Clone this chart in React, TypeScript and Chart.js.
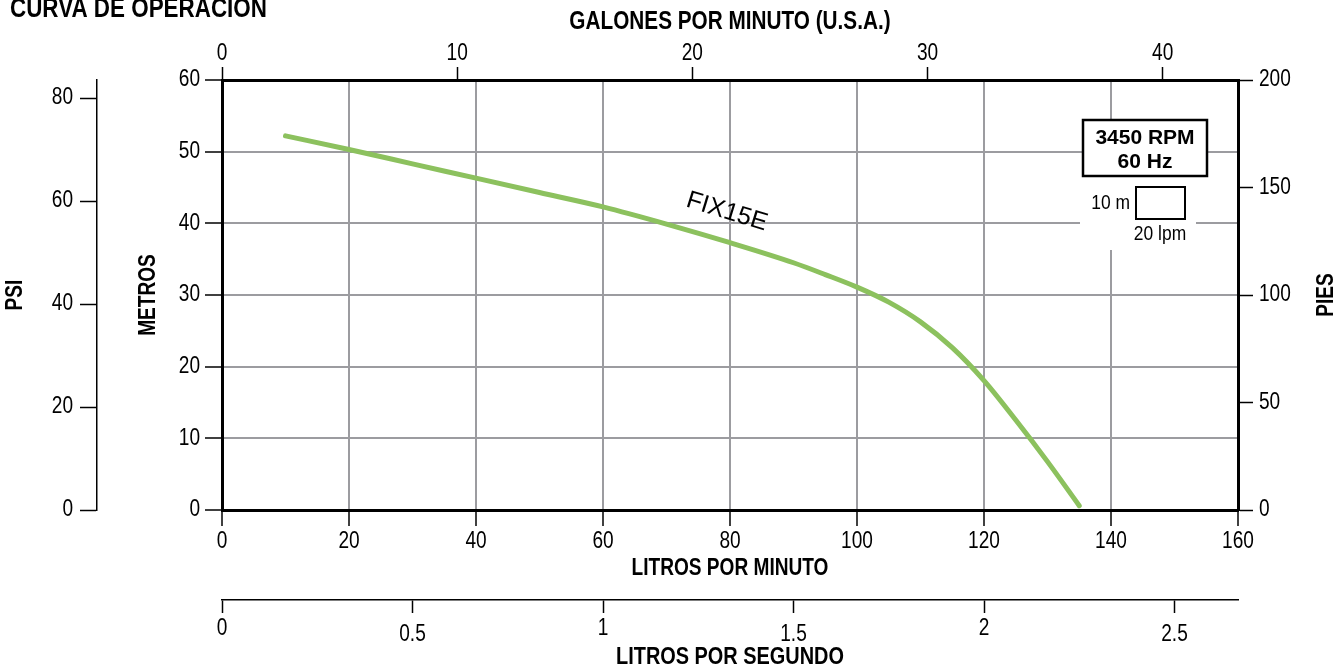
import React, { useEffect, useRef } from "react";
import { Chart, registerables } from "chart.js";

Chart.register(...registerables);

// ---- data ----
const FLOW_LPM = [10, 20, 30, 40, 50, 60, 70, 80, 90, 95, 100, 105, 110, 115, 120, 125, 130, 135];
const HEAD_M = [52.2, 50.3, 48.3, 46.3, 44.3, 42.3, 39.9, 37.3, 34.5, 32.85, 31.1, 29.0, 26.25, 22.65, 18.05, 12.55, 6.75, 0.6];
const SERIES_NAME = "FIX15E";

const LPM_TICKS = [0, 20, 40, 60, 80, 100, 120, 140, 160];
const METER_TICKS = [0, 10, 20, 30, 40, 50, 60];
const PSI_TICKS = [0, 20, 40, 60, 80];
const FEET_TICKS = [0, 50, 100, 150, 200];
const GPM_TICKS = [0, 10, 20, 30, 40];
const LPS_TICKS = [0, 0.5, 1, 1.5, 2, 2.5];

const TITLE = "CURVA DE OPERACION";
const RPM_TEXT = ["3450 RPM", "60 Hz"];
const SCALE_TEXT = ["10 m", "20 lpm"];

// ---- styles ----
const NARROW = '"Liberation Sans Narrow", "Liberation Sans", Arial, sans-serif';
const REGULAR = '"Liberation Sans", Arial, sans-serif';
const NARROW_FACTOR = 0.83;
const GRID = "#9c9ca0";
const CURVE = "#8cc15e";
const tickFont = { family: NARROW, size: 23, lineHeight: 1.2 };
const titleFont = { family: NARROW, size: 23, weight: "bold" as const, lineHeight: 1.2 };

const setTicks = (vals: number[]) => (s: any) => {
  s.ticks = vals.map((v) => ({ value: v }));
};

const annotations = {
  id: "annotations",
  beforeDatasetsDraw(chart: any) {
    const { ctx, chartArea: ca } = chart;
    ctx.save();
    ctx.fillStyle = "#fff";
    ctx.fillRect(ca.right - 158, ca.top + 96, 116, 74);
    ctx.restore();
  },
  afterDraw(chart: any) {
    const { ctx, chartArea: ca, scales } = chart;
    ctx.save();
    ctx.fillStyle = "#000";
    ctx.strokeStyle = "#000";

    // main title
    ctx.font = `bold 27px ${NARROW}`;
    ctx.textAlign = "left";
    ctx.textBaseline = "alphabetic";
    ctx.fillText(TITLE, 10, 17);

    // RPM box
    ctx.fillStyle = "#fff";
    ctx.fillRect(ca.right - 155, ca.top + 40, 124, 56);
    ctx.lineWidth = 2.5;
    ctx.strokeRect(ca.right - 155, ca.top + 40, 124, 56);
    ctx.fillStyle = "#000";
    ctx.font = `bold 21px ${REGULAR}`;
    ctx.textAlign = "center";
    ctx.textBaseline = "middle";
    ctx.fillText(RPM_TEXT[0], ca.right - 93, ca.top + 58);
    ctx.fillText(RPM_TEXT[1], ca.right - 93, ca.top + 82);

    // scale legend
    ctx.lineWidth = 2;
    ctx.strokeRect(ca.right - 102, ca.top + 107, 49, 32);
    ctx.font = `21px ${NARROW}`;
    ctx.textAlign = "right";
    ctx.fillText(SCALE_TEXT[0], ca.right - 108, ca.top + 123);
    ctx.textAlign = "center";
    ctx.fillText(SCALE_TEXT[1], ca.right - 78, ca.top + 154);

    // series label
    const lx = scales.x.getPixelForValue(79.5);
    const ly = scales.y.getPixelForValue(41.6);
    ctx.translate(lx, ly);
    ctx.rotate(0.297);
    ctx.font = `25px ${REGULAR}`;
    ctx.textAlign = "center";
    ctx.textBaseline = "middle";
    ctx.fillText(SERIES_NAME, 0, 0);
    ctx.setTransform(1, 0, 0, 1, 0, 0);

    // right axis title (reads bottom to top)
    const yf = scales.yFeet;
    ctx.translate(yf.right - 17, (yf.top + yf.bottom) / 2);
    ctx.rotate(-Math.PI / 2);
    ctx.font = `bold 23px ${NARROW}`;
    ctx.fillText("PIES", 0, 0);
    ctx.restore();
  },
};

// condensed rendering for the "narrow" family (no narrow face installed)
function condenseText(ctx: CanvasRenderingContext2D) {
  const orig = ctx.fillText.bind(ctx);
  (ctx as any).fillText = (text: string, x: number, y: number, maxWidth?: number) => {
    if (ctx.font.includes("Narrow")) {
      ctx.save();
      ctx.translate(x, y);
      ctx.scale(NARROW_FACTOR, 1);
      if (maxWidth !== undefined) orig(text, 0, 0, maxWidth / NARROW_FACTOR);
      else orig(text, 0, 0);
      ctx.restore();
    } else if (maxWidth !== undefined) orig(text, x, y, maxWidth);
    else orig(text, x, y);
  };
}

export default function App() {
  const ref = useRef<HTMLCanvasElement>(null);
  useEffect(() => {
    if (!ref.current) return;
    const c2d = ref.current.getContext("2d");
    if (c2d) condenseText(c2d);
    const chart = new Chart(ref.current, {
      type: "line",
      data: {
        datasets: [
          {
            label: SERIES_NAME,
            data: FLOW_LPM.map((x, i) => ({ x, y: HEAD_M[i] })),
            xAxisID: "x",
            yAxisID: "y",
            borderColor: CURVE,
            borderWidth: 5,
            pointRadius: 0,
            cubicInterpolationMode: "monotone",
            borderCapStyle: "round",
            fill: false,
          },
        ],
      },
      options: {
        animation: false,
        responsive: false,
        devicePixelRatio: 1,
        layout: { padding: 0 },
        plugins: { legend: { display: false }, tooltip: { enabled: false } },
        scales: {
          x: {
            type: "linear",
            position: "bottom",
            weight: 0,
            min: 0,
            max: 160,
            afterBuildTicks: setTicks(LPM_TICKS),
            afterFit: (s: any) => { s.height = 90; },
            grid: { color: GRID, lineWidth: 2, drawTicks: true, tickLength: 16, tickColor: "#000", tickWidth: 1.5 },
            border: { display: true, color: "#000", width: 3 },
            ticks: { font: tickFont, color: "#000", padding: 2, maxRotation: 0, autoSkip: false },
            title: { display: true, text: "LITROS POR MINUTO", font: titleFont, color: "#000", padding: { top: 0, bottom: 18 } },
          },
          xLps: {
            type: "linear",
            position: "bottom",
            weight: 1,
            min: 0,
            max: 160 / 60,
            afterBuildTicks: setTicks(LPS_TICKS),
            afterFit: (s: any) => { s.height = 69; },
            grid: { drawOnChartArea: false, drawTicks: true, tickLength: 13, tickColor: "#000", tickWidth: 1.5, color: "#000" },
            border: { display: true, color: "#000", width: 1.5 },
            ticks: {
              font: (c: any) => ({ family: NARROW, size: 23, lineHeight: c.index % 2 ? "39px" : "27.6px" }),
              color: "#000",
              padding: 2,
              maxRotation: 0,
              autoSkip: false,
              callback: (v: any) => String(v),
            },
            title: {
              display: true,
              text: "LITROS POR SEGUNDO",
              font: { family: NARROW, size: 24, weight: "bold", lineHeight: 1.2 },
              color: "#000",
              padding: { top: 0, bottom: -3 },
            },
          },
          xTop: {
            type: "linear",
            position: "top",
            min: 0,
            max: 43.2,
            afterBuildTicks: setTicks(GPM_TICKS),
            afterFit: (s: any) => { s.height = 80; },
            grid: { drawOnChartArea: false, drawTicks: true, tickLength: 13, tickColor: "#000", tickWidth: 1.5, color: "#000" },
            border: { display: true, color: "#000", width: 3 },
            ticks: { font: tickFont, color: "#000", padding: 0, maxRotation: 0, autoSkip: false },
            title: {
              display: true,
              text: "GALONES POR MINUTO (U.S.A.)",
              font: { family: NARROW, size: 25, weight: "bold", lineHeight: 1.2 },
              color: "#000",
              padding: { top: 7, bottom: 0 },
            },
          },
          y: {
            type: "linear",
            position: "left",
            weight: 0,
            min: 0,
            max: 60,
            afterBuildTicks: setTicks(METER_TICKS),
            afterFit: (s: any) => { s.width = 125; },
            grid: { color: GRID, lineWidth: 2, drawTicks: true, tickLength: 17, tickColor: "#000", tickWidth: 1.5 },
            border: { display: true, color: "#000", width: 3 },
            ticks: { font: tickFont, color: "#000", padding: 5 },
            title: { display: true, text: "METROS", font: titleFont, color: "#000", padding: { top: 38, bottom: 0 } },
          },
          yPsi: {
            type: "linear",
            position: "left",
            weight: 1,
            min: 0,
            max: 83.5,
            afterBuildTicks: setTicks(PSI_TICKS),
            afterFit: (s: any) => { s.width = 97; },
            grid: { drawOnChartArea: false, drawTicks: true, tickLength: 17, tickColor: "#000", tickWidth: 1.5, color: "#000" },
            border: { display: true, color: "#000", width: 1.5 },
            ticks: { font: tickFont, color: "#000", padding: 7 },
            title: { display: true, text: "PSI", font: titleFont, color: "#000", padding: { top: 2, bottom: 0 } },
          },
          yFeet: {
            type: "linear",
            position: "right",
            min: 0,
            max: 200,
            afterBuildTicks: setTicks(FEET_TICKS),
            afterFit: (s: any) => { s.width = 106; },
            grid: { drawOnChartArea: false, drawTicks: true, tickLength: 15, tickColor: "#000", tickWidth: 1.5, color: "#000" },
            border: { display: true, color: "#000", width: 3 },
            ticks: { font: tickFont, color: "#000", padding: 6 },
            title: { display: false, text: "PIES" },
          },
        },
      } as any,
      plugins: [annotations],
    });
    return () => chart.destroy();
  }, []);

  return (
    <div style={{ position: "fixed", left: 0, top: 0, width: 1344, height: 669, background: "#fff" }}>
      <canvas ref={ref} width={1344} height={669} style={{ display: "block" }} />
    </div>
  );
}
